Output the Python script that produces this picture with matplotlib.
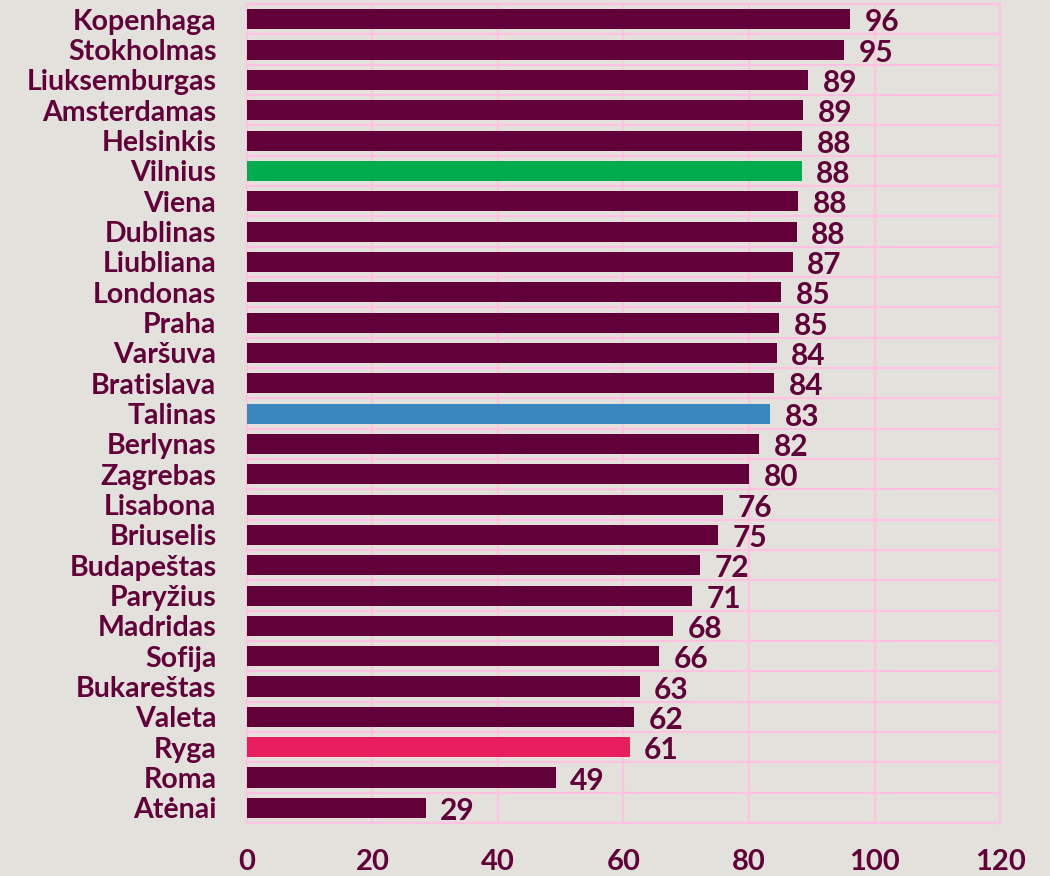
import matplotlib.pyplot as plt
import numpy as np

cities = ["Kopenhaga", "Stokholmas", "Liuksemburgas", "Amsterdamas", "Helsinkis",
          "Vilnius", "Viena", "Dublinas", "Liubliana", "Londonas", "Praha",
          "Varšuva", "Bratislava", "Talinas", "Berlynas", "Zagrebas", "Lisabona",
          "Briuselis", "Budapeštas", "Paryžius", "Madridas", "Sofija",
          "Bukareštas", "Valeta", "Ryga", "Roma", "Atėnai"]
values = [96.1, 95.2, 89.4, 88.6, 88.5, 88.4, 87.8, 87.6, 87.0, 85.1, 84.8,
          84.4, 84.0, 83.4, 81.6, 80.0, 75.9, 75.1, 72.2, 70.9, 67.9, 65.7,
          62.6, 61.7, 61.0, 49.2, 28.5]
labels = [96, 95, 89, 89, 88, 88, 88, 88, 87, 85, 85, 84, 84, 83, 82, 80, 76,
          75, 72, 71, 68, 66, 63, 62, 61, 49, 29]
xticks = [0, 20, 40, 60, 80, 100, 120]

BG = "#e3e1dc"
DARK = "#62003a"
GRID = "#ffc2e2"
highlight = {"Vilnius": "#00ac4e", "Talinas": "#3a87be", "Ryga": "#e81e5e"}

plt.rcParams["font.family"] = ["Lato", "DejaVu Sans"]

fig = plt.figure(figsize=(10.5, 8.76), dpi=100, facecolor=BG)
ax = fig.add_axes([0.2352, 0.0605, 0.7172, 0.9349], facecolor=BG)

y = np.arange(len(cities))
colors = [highlight.get(c, DARK) for c in cities]
ax.barh(y, values, height=0.66, color=colors, zorder=3)

for yi, v, lab in zip(y, values, labels):
    ax.text(v + 2.3, yi + 0.1, str(lab), va="center", ha="left",
            fontsize=21.5, fontweight="bold", color=DARK, zorder=4)

ax.set_xlim(0, 120)
ax.set_ylim(len(cities) - 0.5, -0.5)
ax.set_xticks(xticks)
ax.set_xticklabels([str(t) for t in xticks], fontsize=21, fontweight="bold", color=DARK)
ax.set_yticks(y)
ax.set_yticklabels(cities, fontsize=20.5, fontweight="bold", color=DARK)
ax.set_yticks(np.arange(len(cities) + 1) - 0.5, minor=True)
ax.tick_params(axis="both", which="both", length=0)
ax.tick_params(axis="x", pad=19)
ax.tick_params(axis="y", pad=22)

ax.grid(axis="x", which="major", color=GRID, linewidth=1.6, zorder=0)
ax.grid(axis="y", which="minor", color=GRID, linewidth=1.6, zorder=0)
for s in ax.spines.values():
    s.set_color(GRID)
    s.set_linewidth(1.6)

fig.savefig("out.png", dpi=100, facecolor=BG)
